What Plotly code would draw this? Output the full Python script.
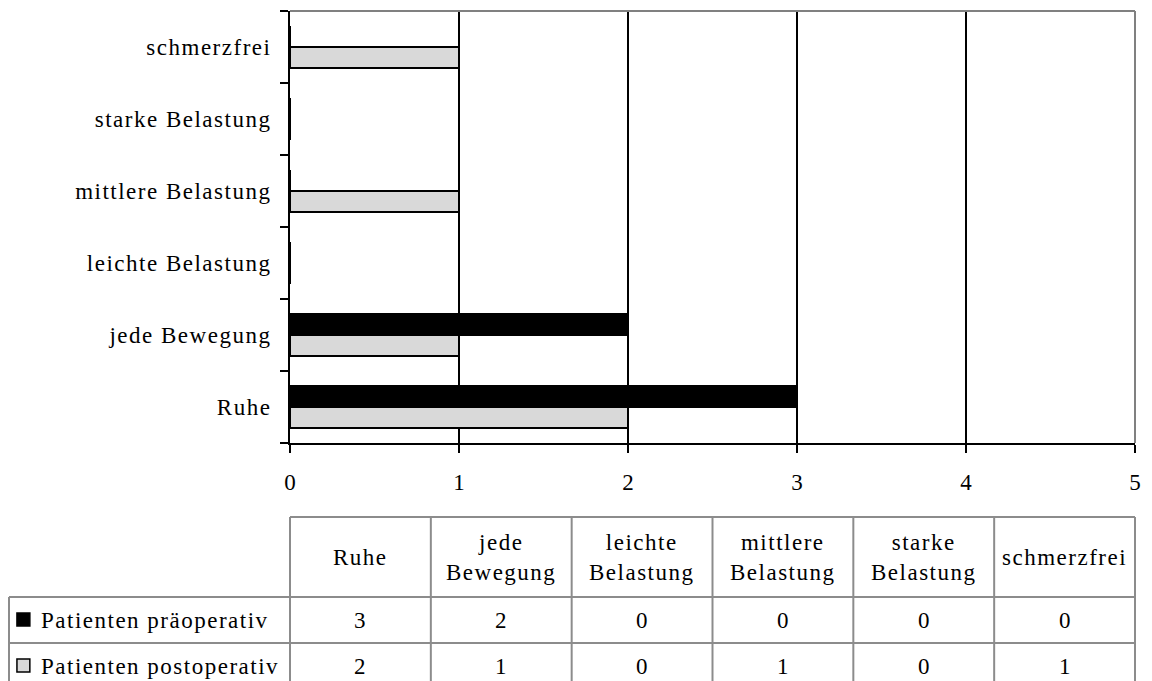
import plotly.graph_objects as go

# ---- data -------------------------------------------------------------
categories = ["Ruhe", "jede Bewegung", "leichte Belastung",
              "mittlere Belastung", "starke Belastung", "schmerzfrei"]
header_labels = ["Ruhe", "jede<br>Bewegung", "leichte<br>Belastung",
                 "mittlere<br>Belastung", "starke<br>Belastung", "schmerzfrei"]
series_names = ["Patienten präoperativ", "Patienten postoperativ"]
pre_values = [3, 2, 0, 0, 0, 0]
post_values = [2, 1, 0, 1, 0, 1]
x_ticks = [0, 1, 2, 3, 4, 5]

# ---- style ------------------------------------------------------------
FONT = "Liberation Serif"
FS = 23
PRE_COLOR = "#000000"
POST_COLOR = "#d9d9d9"
TABLE_LINE = "#8c8c8c"
FRAME_GRAY = "#808080"
SPACING = "letter-spacing:1.5px"

W, H = 1152, 681
L, R, T, B = 290, 11, 11, 238
plot_w = W - L - R
plot_h = H - T - B


def px_x(px):
    return (px - L) / plot_w


def px_y(py):
    return (H - B - py) / plot_h


def spaced(s):
    return "<br>".join(f'<span style="{SPACING}">{part}</span>' for part in s.split("<br>"))


fig = go.Figure()

# postoperative bars sit in the lower half of each category band
fig.add_trace(go.Bar(
    y=categories, x=post_values, orientation="h", name=series_names[1],
    marker=dict(color=POST_COLOR, line=dict(color="black", width=2)),
    showlegend=False, hoverinfo="x+y",
))
fig.add_trace(go.Bar(
    y=categories, x=pre_values, orientation="h", name=series_names[0],
    marker=dict(color=PRE_COLOR, line=dict(color="black", width=2)),
    showlegend=False, hoverinfo="x+y",
))

fig.update_layout(
    width=W, height=H,
    margin=dict(l=L, r=R, t=T, b=B, pad=0),
    paper_bgcolor="white", plot_bgcolor="white",
    barmode="group", bargap=0.417, bargroupgap=0,
    font=dict(family=FONT, size=FS, color="black"),
)

fig.update_xaxes(
    range=[0, 5], tickmode="array", tickvals=x_ticks,
    ticktext=[str(v) for v in x_ticks],
    showgrid=True, gridcolor="black", gridwidth=2,
    zeroline=False, showline=True, linecolor="black", linewidth=2,
    ticks="outside", ticklen=8, tickwidth=2, tickcolor="black",
    ticklabelstandoff=9,
    tickfont=dict(family=FONT, size=FS, color="black"),
)

fig.update_yaxes(
    type="category", range=[-0.5, 5.5],
    tickmode="array", tickvals=categories,
    ticktext=[spaced(c) for c in categories],
    tickson="boundaries",
    showgrid=False, zeroline=False,
    showline=True, linecolor="black", linewidth=2,
    ticks="outside", ticklen=8, tickwidth=2, tickcolor="black",
    ticklabelstandoff=12,
    tickfont=dict(family=FONT, size=FS, color="black"),
)

shapes = []
# grey frame on the top and right of the plotting area
shapes.append(dict(type="line", xref="paper", yref="paper", x0=0, x1=1, y0=1, y1=1,
                   line=dict(color=FRAME_GRAY, width=2), layer="above"))
shapes.append(dict(type="line", xref="paper", yref="paper", x0=1, x1=1, y0=0, y1=1,
                   line=dict(color=FRAME_GRAY, width=2), layer="above"))

# ---- data table under the chart ---------------------------------------
n = len(categories)
head_top, row1_top, row2_top, row2_bot = 517, 597, 643, 689
left_px = 7
line = dict(color=TABLE_LINE, width=2)

shapes.append(dict(type="line", xref="paper", yref="paper",
                   x0=0, x1=1, y0=px_y(head_top), y1=px_y(head_top), line=line))
for yy in (row1_top, row2_top, row2_bot):
    shapes.append(dict(type="line", xref="paper", yref="paper",
                       x0=px_x(left_px), x1=1, y0=px_y(yy), y1=px_y(yy), line=line))
shapes.append(dict(type="line", xref="paper", yref="paper",
                   x0=px_x(left_px), x1=px_x(left_px), y0=px_y(row1_top), y1=px_y(row2_bot),
                   line=line))
for i in range(n + 1):
    shapes.append(dict(type="line", xref="paper", yref="paper",
                       x0=i / n, x1=i / n, y0=px_y(head_top), y1=px_y(row2_bot), line=line))

annotations = []
head_mid = (head_top + row1_top) / 2
for i, lab in enumerate(header_labels):
    annotations.append(dict(xref="paper", yref="paper", x=(i + 0.5) / n, y=px_y(head_mid),
                            text=spaced(lab), showarrow=False, xanchor="center", yanchor="middle",
                            font=dict(family=FONT, size=FS, color="black")))

rows = [(series_names[0], pre_values, PRE_COLOR, (row1_top + row2_top) / 2),
        (series_names[1], post_values, POST_COLOR, (row2_top + row2_bot) / 2)]
for name, vals, color, mid in rows:
    # legend key square
    shapes.append(dict(type="rect", xref="paper", yref="paper",
                       x0=px_x(15), x1=px_x(28), y0=px_y(mid - 7), y1=px_y(mid + 6),
                       fillcolor=color, line=dict(color="black", width=1.5)))
    annotations.append(dict(xref="paper", yref="paper", x=px_x(37), y=px_y(mid),
                            text=spaced(name), showarrow=False, xanchor="left", yanchor="middle",
                            font=dict(family=FONT, size=FS, color="black")))
    for i, v in enumerate(vals):
        annotations.append(dict(xref="paper", yref="paper", x=(i + 0.5) / n, y=px_y(mid),
                                text=str(v), showarrow=False, xanchor="center", yanchor="middle",
                                font=dict(family=FONT, size=FS, color="black")))

fig.update_layout(shapes=shapes, annotations=annotations)

fig.write_html("out.html")
